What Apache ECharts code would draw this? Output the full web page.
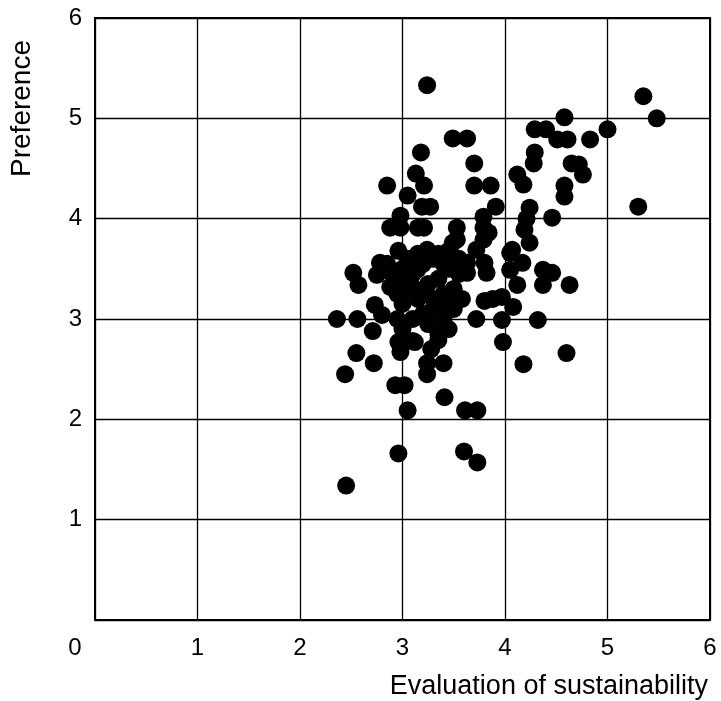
<!DOCTYPE html>
<html>
<head>
<meta charset="utf-8">
<script src="https://cdn.jsdelivr.net/npm/echarts@6/dist/echarts.min.js"></script>
<style>
  html, body { margin: 0; padding: 0; background: #fff; }
  #chart { width: 721px; height: 701px; }
</style>
</head>
<body>
<div id="chart"></div>
<script>
// Axis ticks (both axes run 0..6 in steps of 1)
const xTicks = [0, 1, 2, 3, 4, 5, 6];
const yTicks = [0, 1, 2, 3, 4, 5, 6];

const xTitle = 'Evaluation of sustainability';
const yTitle = 'Preference';

// Respondents: [sustainability evaluation, preference]
const sparsePoints = [
  [2.45,1.34],[2.96,1.66],[3.60,1.68],[3.73,1.57],
  [3.05,2.09],[3.61,2.09],[3.73,2.09],[3.41,2.22],
  [2.44,2.45],[2.93,2.34],[3.02,2.34],
  [2.55,2.66],[2.72,2.56],[3.24,2.56],[3.24,2.45],[3.40,2.56],
  [2.96,2.77],[2.98,2.67],[3.12,2.77],[3.35,2.79],[4.60,2.66],[4.18,2.55],[3.98,2.77],
  [2.36,3.00],[2.56,3.00],[2.71,2.88],[2.80,3.04],[2.73,3.14],
  [3.72,3.00],[3.97,2.99],[4.32,2.99],
  [3.80,3.18],[3.97,3.22],[3.88,3.20],[4.08,3.12],
  [2.52,3.46],[2.57,3.34],[2.75,3.44],[2.78,3.56],[2.88,3.32],
  [2.96,3.68],[2.88,3.91],[2.98,3.91],[3.15,3.91],[3.21,3.91],[2.98,4.03],
  [3.24,3.69],[3.49,3.76],[3.53,3.91],[3.53,3.79],[3.63,3.56],[3.63,3.46],[3.72,3.69],[3.80,3.56],[3.82,3.46],
  [3.79,4.02],[3.79,3.91],[3.79,3.79],[3.84,3.86],
  [4.05,3.66],[4.05,3.49],[4.07,3.69],[4.17,3.56],[4.12,3.34],[4.37,3.49],[4.46,3.46],[4.37,3.34],[4.63,3.34],
  [4.24,3.76],[4.19,3.89],[4.21,4.00],[4.24,4.11],[4.46,4.01],[3.91,4.12],
  [2.85,4.33],[3.05,4.23],[3.13,4.45],[3.21,4.33],[3.18,4.66],[3.19,4.12],[3.27,4.12],
  [3.49,4.80],[3.63,4.80],[3.70,4.55],[3.70,4.33],[3.86,4.33],
  [3.24,5.33],
  [4.12,4.44],[4.18,4.34],[4.28,4.55],[4.29,4.66],[4.29,4.89],[4.40,4.89],[4.51,4.79],[4.61,4.79],[4.58,5.01],[4.83,4.79],[5.00,4.89],
  [4.65,4.55],[4.72,4.54],[4.76,4.44],[4.58,4.33],[4.58,4.22],
  [5.30,4.12],[5.35,5.22],[5.48,5.00]
];

// The crowded core around (3.2, 3.3)
const densePoints = [
  [3.00,3.50],[3.05,3.30],[3.10,3.45],[3.15,3.20],[3.20,3.55],[3.25,3.35],[3.30,3.60],[3.35,3.40],
  [3.40,3.25],[3.45,3.50],[3.50,3.30],[3.55,3.60],[3.10,3.00],[3.20,3.05],[3.30,3.10],[3.40,3.00],
  [3.45,2.90],[3.35,2.85],[3.25,2.95],[3.00,3.15],[2.95,3.00],[3.05,3.60],[3.15,3.65],[3.35,3.65],
  [3.45,3.68],[3.40,3.55],[3.55,3.45],[3.58,3.20],[3.50,3.10],[2.90,3.45],[2.85,3.55],[3.00,2.90],
  [3.10,2.78],[3.28,2.70],[3.45,3.15],[3.20,3.25],[3.00,3.40],[3.15,3.50],[3.30,3.20],[3.12,3.30],
  [2.95,3.25]
];

const FONT = 'Liberation Sans, Arial, sans-serif';
const labelFont = { color: '#000', fontSize: 24, fontFamily: FONT };

const chart = echarts.init(document.getElementById('chart'), null, { renderer: 'canvas' });

chart.setOption({
  animation: false,
  backgroundColor: '#fff',
  grid: {
    left: 95, right: 11, top: 18, bottom: 81,
    show: true, borderColor: '#000', borderWidth: 2, backgroundColor: 'transparent'
  },
  xAxis: {
    type: 'value',
    min: xTicks[0], max: xTicks[xTicks.length - 1], interval: 1,
    axisLine: { show: true, lineStyle: { color: '#000', width: 2 } },
    axisTick: { show: false },
    splitLine: { show: true, lineStyle: { color: '#000', width: 1.3 } },
    axisLabel: {
      margin: 16,
      ...labelFont,
      formatter: v => v === 0 ? '{zero|0}' : String(v),
      rich: { zero: { ...labelFont, padding: [0, 40, 0, 0] } }
    }
  },
  yAxis: {
    type: 'value',
    min: yTicks[0], max: yTicks[yTicks.length - 1], interval: 1,
    axisLine: { show: true, lineStyle: { color: '#000', width: 2 } },
    axisTick: { show: false },
    splitLine: { show: true, lineStyle: { color: '#000', width: 1.3 } },
    axisLabel: {
      margin: 13,
      ...labelFont,
      formatter: v => v === 0 ? '' : String(v)
    }
  },
  graphic: [
    {
      type: 'text', right: 13, top: 673,
      style: { text: xTitle, fill: '#000', fontSize: 27, fontFamily: FONT }
    },
    {
      type: 'text', left: 8, top: 40, rotation: Math.PI / 2,
      style: { text: yTitle, fill: '#000', fontSize: 28, fontFamily: FONT }
    }
  ],
  series: [
    {
      type: 'scatter',
      data: sparsePoints.concat(densePoints),
      symbol: 'circle',
      symbolSize: 18,
      itemStyle: { color: '#000', opacity: 1 },
      emphasis: { disabled: true }
    }
  ]
});
</script>
</body>
</html>
